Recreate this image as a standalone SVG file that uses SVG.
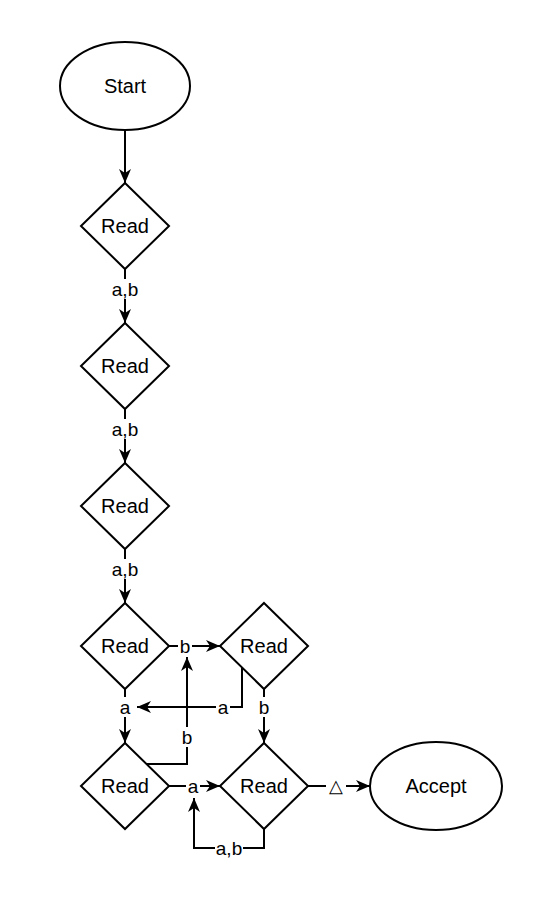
<svg xmlns="http://www.w3.org/2000/svg" width="556" height="919" viewBox="0 0 556 919">
<style>
.n{fill:#fff;stroke:#000;stroke-width:2}
.t{font-family:"Liberation Sans",Arial,sans-serif;font-size:20px;fill:#000;text-anchor:middle}
.l{font-family:"Liberation Sans",Arial,sans-serif;font-size:19px;fill:#000;text-anchor:middle}
.e{fill:none;stroke:#000;stroke-width:2}
.bg{fill:#fff}
</style>
<defs>
<marker id="ah" viewBox="0 0 14 12" refX="14" refY="6" markerWidth="14" markerHeight="12" markerUnits="userSpaceOnUse" orient="auto">
<path d="M0,0 L14,6 L0,12 L4,6 Z" fill="#000"/>
</marker>
</defs>
<rect width="556" height="919" fill="#fff"/>
<g id="connectors">
<path class="e" d="M125,130 L125,183" marker-end="url(#ah)"/>
<path class="e" d="M125,269 L125,323" marker-end="url(#ah)"/>
<path class="e" d="M125,409 L125,463" marker-end="url(#ah)"/>
<path class="e" d="M125,549 L125,603" marker-end="url(#ah)"/>
<path class="e" d="M169,646 L220,646" marker-end="url(#ah)"/>
<path class="e" d="M125,689 L125,743" marker-end="url(#ah)"/>
<path class="e" d="M242,667 L242,707 L137,707" marker-end="url(#ah)"/>
<path class="e" d="M264,689 L264,743" marker-end="url(#ah)"/>
<path class="e" d="M147,764 L187,764 L187,657" marker-end="url(#ah)"/>
<path class="e" d="M169,786 L220,786" marker-end="url(#ah)"/>
<path class="e" d="M264,829 L264,848 L194,848 L194,798" marker-end="url(#ah)"/>
<path class="e" d="M308,786 L370,786" marker-end="url(#ah)"/>
<g id="labels">
<rect class="bg" x="111" y="279" width="28" height="20"/><text class="l" x="125" y="296">a,b</text>
<rect class="bg" x="111" y="419" width="28" height="20"/><text class="l" x="125" y="436">a,b</text>
<rect class="bg" x="111" y="559" width="28" height="20"/><text class="l" x="125" y="576">a,b</text>
<rect class="bg" x="178" y="636" width="14" height="20"/><text class="l" x="185" y="653">b</text>
<rect class="bg" x="118" y="697" width="14" height="20"/><text class="l" x="125" y="714">a</text>
<rect class="bg" x="216" y="697" width="14" height="20"/><text class="l" x="223" y="714">a</text>
<rect class="bg" x="257" y="697" width="14" height="20"/><text class="l" x="264" y="714">b</text>
<rect class="bg" x="180" y="727" width="14" height="20"/><text class="l" x="187" y="744">b</text>
<rect class="bg" x="186" y="776" width="14" height="20"/><text class="l" x="193" y="793">a</text>
<rect class="bg" x="215" y="838" width="28" height="20"/><text class="l" x="229" y="855">a,b</text>
<rect class="bg" x="326" y="776" width="20" height="20"/><text class="l" x="336" y="792" style="font-size:18px">△</text>
</g>
</g>
<g id="start"><ellipse class="n" cx="125" cy="86" rx="65" ry="44"/><text class="t" x="125" y="93">Start</text></g>
<g id="read1"><polygon class="n" points="125,183 169,226 125,269 81,226"/><text class="t" x="125" y="233">Read</text></g>
<g id="read2"><polygon class="n" points="125,323 169,366 125,409 81,366"/><text class="t" x="125" y="373">Read</text></g>
<g id="read3"><polygon class="n" points="125,463 169,506 125,549 81,506"/><text class="t" x="125" y="513">Read</text></g>
<g id="read4"><polygon class="n" points="125,603 169,646 125,689 81,646"/><text class="t" x="125" y="653">Read</text></g>
<g id="read5"><polygon class="n" points="264,603 308,646 264,689 220,646"/><text class="t" x="264" y="653">Read</text></g>
<g id="read6"><polygon class="n" points="125,743 169,786 125,829 81,786"/><text class="t" x="125" y="793">Read</text></g>
<g id="read7"><polygon class="n" points="264,743 308,786 264,829 220,786"/><text class="t" x="264" y="793">Read</text></g>
<g id="accept"><ellipse class="n" cx="436" cy="786" rx="66" ry="44"/><text class="t" x="436" y="793">Accept</text></g>
</svg>
